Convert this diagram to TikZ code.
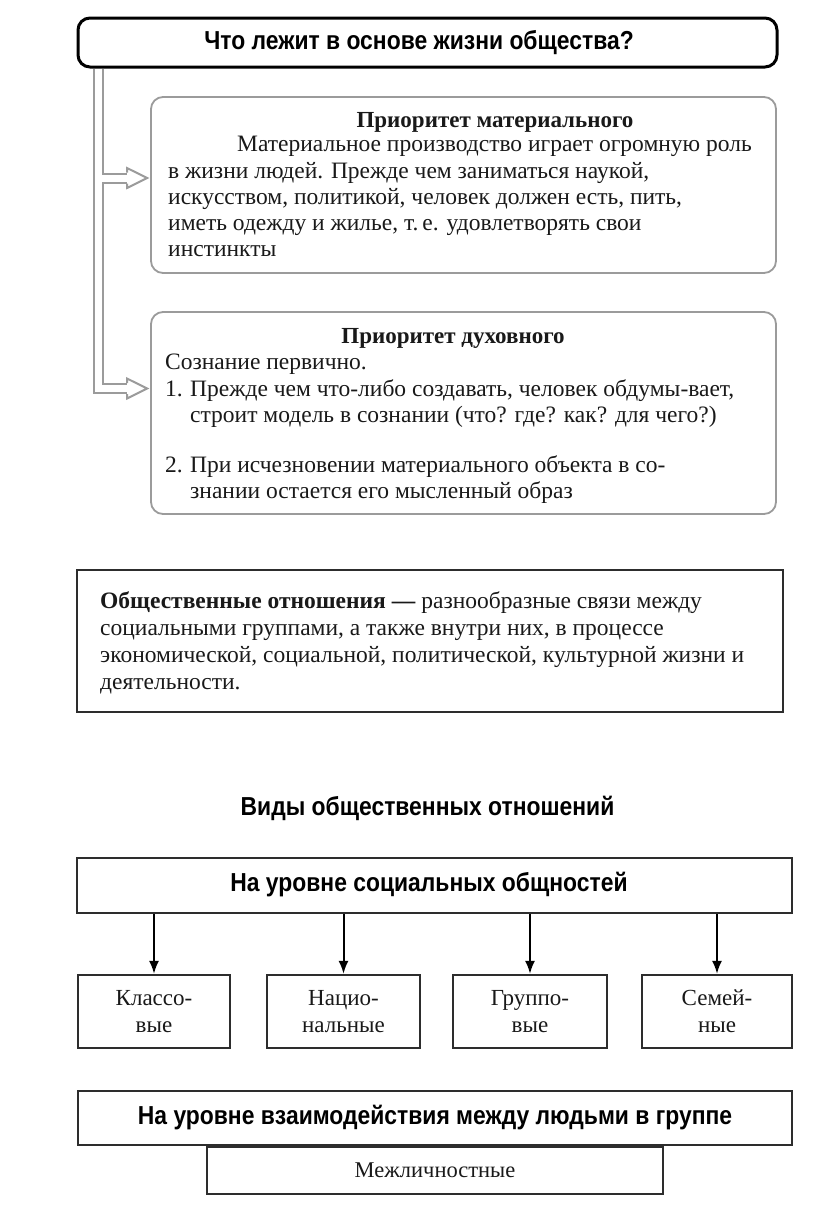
\documentclass[tikz,border=0pt]{standalone}
\usepackage{fontspec}
\setmainfont{Liberation Serif}
\newfontfamily\hsans[FakeStretch=0.88]{Liberation Sans}
\usetikzlibrary{calc,arrows.meta}
\definecolor{boxgray}{RGB}{155,155,155}
\definecolor{darkline}{RGB}{45,45,45}
\definecolor{txt}{RGB}{25,25,25}
\begin{document}
\begin{tikzpicture}[x=1pt,y=-1pt,
  body/.style={anchor=base west, inner sep=0pt, text=txt, font=\fontsize{23.5}{26}\selectfont},
  bodytitle/.style={anchor=base, inner sep=0pt, text=txt, font=\fontsize{23}{26}\selectfont\bfseries},
  headfont/.style={font=\hsans\bfseries\fontsize{26}{28}\selectfont},
  qbox/.style={draw=black, line width=3pt, rounded corners=12pt, inner sep=0pt},
  softbox/.style={draw=boxgray, line width=1.8pt, rounded corners=12pt, inner sep=0pt},
  plainbox/.style={draw=darkline, line width=2.2pt, inner sep=0pt},
  headbox/.style={plainbox, text=black, headfont},
  kindbox/.style={plainbox, minimum height=73pt, align=center, text=txt,
     font=\fontsize{23}{27}\selectfont},
  dbl/.style={draw=boxgray, line width=2pt, double=white, double distance=7pt},
  head/.style={draw=boxgray, line width=2pt, line join=miter},
  down/.style={draw=black, line width=2pt, -{Latex[length=13pt,width=10pt]}},
]
\useasboundingbox[fill=white] (0,0) rectangle (816,1219);

% top question
\node[qbox, minimum width=699pt, minimum height=49pt] (q) at (427.5,42.5) {};
\node[inner sep=0pt, text=black, headfont] (qt) at (419,43) {Что лежит в основе жизни общества?};

% priority boxes
\node[softbox, minimum width=625pt, minimum height=176pt] (m) at (463.5,185) {};
\node[softbox, minimum width=625pt, minimum height=202pt] (s) at (463.5,413) {};

\node[bodytitle] (mt) at (495,127) {Приоритет материального};
\node[body] (m1) at (237,151) {Материальное производство играет огромную роль};
\node[body] (m2) at (168,178) {в жизни людей. Прежде чем заниматься наукой,};
\node[body] (m3) at (168,204) {искусством, политикой, человек должен есть, пить,};
\node[body] (m4) at (168,230) {иметь одежду и жилье, т.\,е. удовлетворять свои};
\node[body] (m5) at (168,256) {инстинкты};

\node[bodytitle] (st) at (453,343) {Приоритет духовного};
\node[body] (s1) at (165,369) {Сознание первично.};
\node[body] (s2) at (165,396) {\makebox[25pt][l]{1.}Прежде чем что-либо создавать, человек обдумы-вает,};
\node[body] (s3) at (190,422) {строит модель в сознании (что? где? как? для чего?)};
\node[body] (s4) at (165,472) {\makebox[25pt][l]{2.}При исчезновении материального объекта в со-};
\node[body] (s5) at (190,498) {знании остается его мысленный образ};

% double connector with hollow heads
\coordinate (vx) at (98.5,0);
\coordinate (a1) at (127,178);
\coordinate (a2) at (127,388.5);
\draw[dbl] (q.south -| vx) |- (a2);
\draw[dbl] ($(a1 -| vx)+(3.5,0)$) -- (a1);
\foreach \c/\b in {a1/m, a2/s}{
  \draw[head] ($(\c)+(0,-5.5)$) -- ($(\c)+(0,-10)$) -- ($(\c -| \b.west)+(-3,0)$)
     -- ($(\c)+(0,10)$) -- ($(\c)+(0,5.5)$);
}

% definition box
\node[plainbox, line width=2.5pt, minimum width=706pt, minimum height=142pt] (def) at (430,641) {};
\node[body] (d1) at (100,608) {\textbf{Общественные отношения —} разнообразные связи между};
\node[body] (d2) at (100,635) {социальными группами, а также внутри них, в процессе};
\node[body] (d3) at (100,662) {экономической, социальной, политической, культурной жизни и};
\node[body] (d4) at (100,689) {деятельности.};

% kinds
\node[inner sep=0pt, text=black, headfont] (vt) at (427.5,808)
  {Виды общественных отношений};

\node[plainbox, minimum width=715pt, minimum height=55pt] (lv1) at (434.5,885.5) {};
\node[inner sep=0pt, text=black, headfont] (lv1t) at (429,885) {На уровне социальных общностей};
\node[kindbox, minimum width=152pt] (k1) at (154,1011.5) {Классо-\\вые};
\node[kindbox, minimum width=153pt] (k2) at (343.5,1011.5) {Нацио-\\нальные};
\node[kindbox, minimum width=154pt] (k3) at (530,1011.5) {Группо-\\вые};
\node[kindbox, minimum width=150pt] (k4) at (717,1011.5) {Семей-\\ные};
\foreach \k in {k1,k2,k3,k4}{
  \draw[down] (lv1.south -| \k.north) -- (\k.north);
}

\node[headbox, minimum width=714pt, minimum height=54pt] (lv2) at (435,1118)
  {На уровне взаимодействия между людьми в группе};
\node[plainbox, anchor=north, minimum width=456pt, minimum height=47pt, text=txt,
  font=\fontsize{22.5}{26}\selectfont] (ip) at (lv2.south) {Межличностные};

\end{tikzpicture}
\end{document}
